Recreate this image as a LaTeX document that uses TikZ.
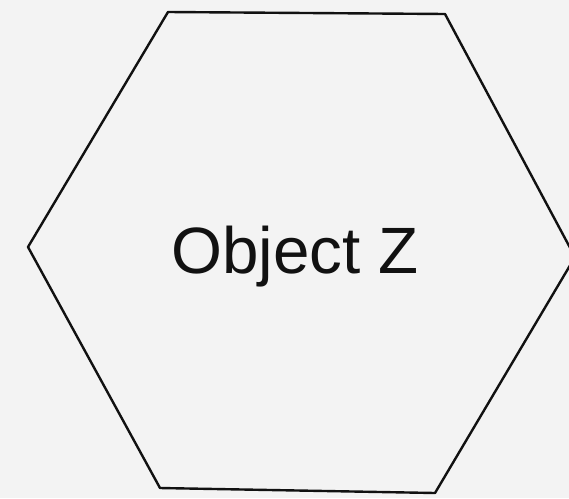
\documentclass[tikz,border=0pt]{standalone}
\usepackage{fontspec}
\setmainfont{Liberation Sans}
\usepackage{xcolor}
\usetikzlibrary{positioning}
\definecolor{zpaper}{HTML}{F3F3F3}
\definecolor{zink}{HTML}{111111}

\begin{document}
\begin{tikzpicture}[x=1pt, y=-1pt]

  %% Page background
  \fill[zpaper] (0,0) rectangle (569,498);
  \useasboundingbox (0,0) rectangle (569,498);

  %% Hexagon corners
  \coordinate (hexTL) at (168,12);
  \coordinate (hexTR) at (445,14);
  \coordinate (hexR)  at (575,257);
  \coordinate (hexBR) at (435,493);
  \coordinate (hexBL) at (160,488);
  \coordinate (hexL)  at (28,247);

  %% Hexagon outline
  \draw[zink, line width=2.4pt, line join=round]
    (hexTL) -- (hexTR) -- (hexR) -- (hexBR) -- (hexBL) -- (hexL) -- cycle;

  %% Label
  \node[font=\fontsize{65.5}{72}\selectfont, text=zink, anchor=base, inner sep=0pt] (objZ) at (295,273) {Object Z};

\end{tikzpicture}
\end{document}
